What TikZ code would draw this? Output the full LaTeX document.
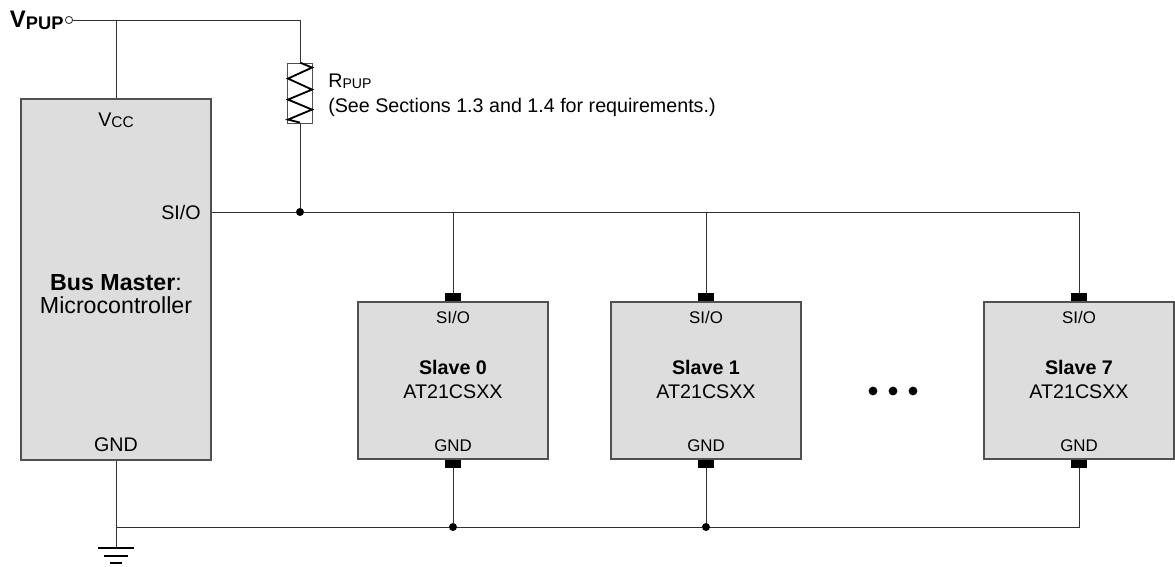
\documentclass[tikz,border=0pt]{standalone}
\usepackage{fontspec}
\setmainfont{Liberation Sans}
\usetikzlibrary{positioning}
\definecolor{chipfill}{HTML}{DDDDDD}
\definecolor{chipline}{HTML}{505050}
\definecolor{wire}{HTML}{303030}
\newcommand{\subtxt}[2]{\raisebox{-0.15ex}{\fontsize{#1}{#1}\selectfont #2}}
\tikzset
{
	my chip/.style={draw=chipline,fill=chipfill,line width=0.8pt,minimum width=4.75cm,inner sep=0pt},
	my slave/.style={my chip,minimum height=3.925cm},
	my pin/.style={fill=black,minimum width=0.4cm,minimum height=0.2cm,inner sep=0pt},
	my dot/.style={circle,fill=black,inner sep=0pt,minimum size=0.2cm},
	my wire/.style={draw=wire,line width=0.7pt},
	my bar/.style={draw=black,line width=1.4pt},
	my pinlabel/.style={anchor=base,font=\fontsize{12}{14}\selectfont}
}

\begin{document}
\begin{tikzpicture}[x=0.025cm,y=-0.025cm,font=\fontsize{14}{17}\selectfont]
		\useasboundingbox (0,0) rectangle (1175,566);
		% supply and pull-up
		\node[circle,draw=wire,line width=0.6pt,inner sep=0pt,minimum size=0.18cm] (vpup) at (69,20) {};
		\node[left=0.03cm of vpup,inner sep=0pt,font=\fontsize{17}{20}\bfseries] (vlabel) {V\subtxt{13}{PUP}};
		\node[draw=chipline,line width=0.6pt,minimum width=0.625cm,minimum height=1.5cm,inner sep=0pt] (rpup) at (300,93) {};
		\draw[line width=1.3pt] (rpup.north) -- ++(12,5) -- ++(-24,11) -- ++(24,11) -- ++(-24,10) -- ++(24,10) -- ++(-24,10) -- ++(12,3);
		\node[anchor=base west,inner sep=0pt,font=\fontsize{14}{16}\selectfont] (rlabel) at (328,87) {R\subtxt{10}{PUP}};
		\node[anchor=base west,inner sep=0pt,font=\fontsize{14}{16}\selectfont] (rnote) at (328,112) {(See Sections 1.3 and 1.4 for requirements.)};
		% bus master
		\node[my chip,minimum height=9.025cm] (master) at (116,279.5) {};
		\node[anchor=base] (mvcc) at (116,126) {V\subtxt{11}{CC}};
		\node[anchor=base east,inner sep=0pt] (msio) at (201,219) {SI/O};
		\node[anchor=base,font=\fontsize{16.5}{19}\selectfont] (mtitle) at (116,290) {\textbf{Bus Master}:};
		\node[anchor=base,font=\fontsize{16.5}{19}\selectfont] (mtype) at (116,313) {Microcontroller};
		\node[anchor=base] (mgnd) at (116,451) {GND};
		% slaves
		\foreach\k/\x in {0/453,1/706,7/1079}
		{
			\node[my slave] (s\k) at (\x,380.5) {};
			\node[my pin,anchor=south] (s\k-top) at (s\k.north) {};
			\node[my pin,anchor=north] (s\k-bot) at (s\k.south) {};
			\node[my pinlabel] (s\k-sio) at (\x,323) {SI/O};
			\node[anchor=base,font=\fontsize{14}{17}\bfseries] (s\k-name) at (\x,374) {Slave \k};
			\node[anchor=base] (s\k-type) at (\x,398) {AT21CSXX};
			\node[my pinlabel] (s\k-gnd) at (\x,451) {GND};
		}
		\foreach\i/\x in {1/873,2/893,3/913}
		\node[my dot,minimum size=0.22cm] (more\i) at (\x,391) {};
		% junctions
		\node[my dot] (bus) at (300,212) {};
		\node[my dot] (g0) at (453,527) {};
		\node[my dot] (g1) at (706,527) {};
		\coordinate (earth) at (116,548);
		% wires
		\draw[my wire] (vpup) -- (rpup.north |- vpup) -- (rpup.north);
		\draw[my wire] (master.north) -- (master.north |- vpup);
		\draw[my wire] (rpup.south) -- (bus);
		\draw[my wire] (master.east |- bus) -- (bus) -- (s7-top.north |- bus) -- (s7-top.north);
		\foreach\k in {0,1}
		\draw[my wire] (s\k-top.north) -- (s\k-top.north |- bus);
		\draw[my wire] (master.south) -- (earth);
		\draw[my wire] (earth |- g0) -- (g0) -- (g1) -- (s7-bot.south |- g0) -- (s7-bot.south);
		\foreach\k in {0,1}
		\draw[my wire] (s\k-bot.south) -- (g\k);
		% ground symbol
		\foreach\w/\d in {0.44/0,0.3/0.2,0.15/0.375}
		\draw[my bar] ([xshift=-\w cm,yshift=-\d cm]earth) -- ([xshift=\w cm,yshift=-\d cm]earth);
	\end{tikzpicture}
\end{document}
